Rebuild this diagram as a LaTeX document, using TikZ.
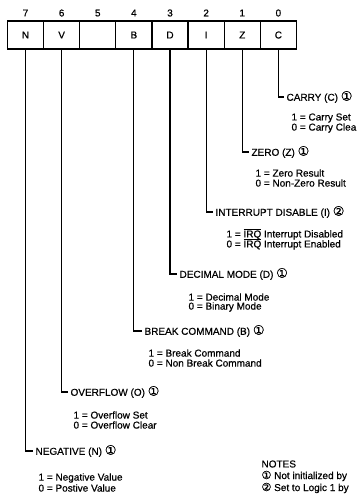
\documentclass[tikz,border=0pt]{standalone}
\usepackage{fontspec}
\setmainfont[FakeBold=0.6]{Liberation Sans}
\newfontfamily\symfont[FakeBold=0.6]{DejaVu Sans}
\usetikzlibrary{positioning}
\newcommand{\noteref}[1]{{\symfont\fontsize{13}{13}\selectfont #1}}
\newcommand{\notemark}[1]{{\symfont\fontsize{11}{11}\selectfont #1}}

\begin{document}
\begin{tikzpicture}[
    x=1pt, y=-1pt, line width=1.1pt,
    every node/.style={font=\fontsize{10}{10}\selectfont},
    bitcell/.style={draw, minimum width=36.2pt, minimum height=28pt, inner sep=0pt},
    flaglabel/.style={anchor=west, inner sep=0pt},
    flagvalue/.style={anchor=west, inner sep=0pt}]

    \useasboundingbox (0,0) rectangle (360,498);

    % Define register cells
    \foreach \bit/\flag [count=\i from 0] in {7/N,6/V,5/,4/B,3/D,2/I,1/Z,0/C} {
        \node[bitcell] (cell\bit) at (25.5+36.125*\i, 35) {\flag};
        \node (num\bit) at (25.5+36.125*\i, 13) {\bit};
    }

    % Define flag labels
    \node[flaglabel] (carry)     at (286, 97)  {CARRY (C) \noteref{①}};
    \node[flaglabel] (zero)      at (251, 152) {ZERO (Z) \noteref{①}};
    \node[flaglabel] (interrupt) at (215, 212) {INTERRUPT DISABLE (I) \noteref{②}};
    \node[flaglabel] (decimal)   at (179, 274) {DECIMAL MODE (D) \noteref{①}};
    \node[flaglabel] (break)     at (144, 331) {BREAK COMMAND (B) \noteref{①}};
    \node[flaglabel] (overflow)  at (70, 392)  {OVERFLOW (O) \noteref{①}};
    \node[flaglabel] (negative)  at (35, 451)  {NEGATIVE (N) \noteref{①}};

    % Define flag values
    \node[flagvalue] (carryset)   at (291, 118) {1 = Carry Set};
    \node[flagvalue] (carryclr)   at (291, 128) {0 = Carry Clea};
    \node[flagvalue] (zeroset)    at (255, 173) {1 = Zero Result};
    \node[flagvalue] (zeroclr)    at (255, 183) {0 = Non-Zero Result};
    \node[flagvalue] (irqset)     at (226, 234) {1 = $\overline{\mbox{IRQ}}$ Interrupt Disabled};
    \node[flagvalue] (irqclr)     at (226, 244) {0 = $\overline{\mbox{IRQ}}$ Interrupt Enabled};
    \node[flagvalue] (decset)     at (188, 297) {1 = Decimal Mode};
    \node[flagvalue] (decclr)     at (188, 307) {0 = Binary Mode};
    \node[flagvalue] (brkset)     at (148, 353) {1 = Break Command};
    \node[flagvalue] (brkclr)     at (148, 363) {0 = Non Break Command};
    \node[flagvalue] (ovfset)     at (73, 415)  {1 = Overflow Set};
    \node[flagvalue] (ovfclr)     at (73, 425)  {0 = Overflow Clear};
    \node[flagvalue] (negset)     at (38, 478)  {1 = Negative Value};
    \node[flagvalue] (negclr)     at (38, 488)  {0 = Postive Value};

    % Notes
    \node[flagvalue] (notes)  at (261, 464) {NOTES};
    \node[flagvalue] (note1)  at (261, 476) {\notemark{①} Not initialized by};
    \node[flagvalue] (note2)  at (261, 488) {\notemark{②} Set to Logic 1 by};

    % Draw leader lines
    \draw (cell0.south) |- ([xshift=-2pt]carry.west);
    \draw (cell1.south) |- ([xshift=-2pt]zero.west);
    \draw (cell2.south) |- ([xshift=-2pt]interrupt.west);
    \draw (cell3.south) |- ([xshift=-2pt]decimal.west);
    \draw (cell4.south) |- ([xshift=-2pt]break.west);
    \draw (cell6.south) |- ([xshift=-2pt]overflow.west);
    \draw (cell7.south) |- ([xshift=-2pt]negative.west);

\end{tikzpicture}
\end{document}
